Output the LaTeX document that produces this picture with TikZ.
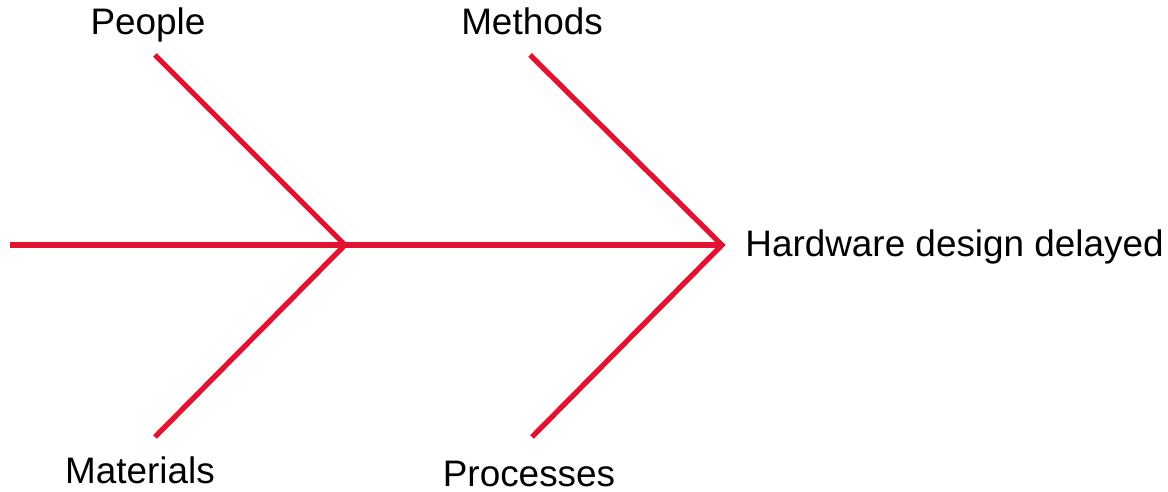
\documentclass[tikz,border=0pt]{standalone}
\usepackage{fontspec}
\setmainfont{Liberation Sans}
\definecolor{bonered}{RGB}{227,18,48}

\tikzset{
    bone/.style={draw=bonered, line width=3pt},
    cause/.style={font=\fontsize{21}{25}\selectfont, inner sep=0pt, anchor=base}
}

\begin{document}
\begin{tikzpicture}[x=0.02cm, y=-0.02cm]
        \useasboundingbox (0,0) rectangle (1168,492);

        % Points of the spine
        \coordinate (tail) at (10, 245);
        \coordinate (joint) at (345, 245);
        \coordinate (mouth) at (722, 245);

        % Ends of the four bones
        \coordinate (peopleend) at (155, 55);
        \coordinate (materialsend) at (155, 437);
        \coordinate (methodsend) at (530, 55);
        \coordinate (processesend) at (532, 437);

        % Effect at the head
        \node[cause, anchor=base west] (effect) at (745, 257) {Hardware design delayed};

        % Category labels
        \node[cause] (people) at (148, 35) {People};
        \node[cause] (methods) at (532, 35) {Methods};
        \node[cause] (materials) at (140, 483) {Materials};
        \node[cause] (processes) at (529, 486) {Processes};

        % Spine and bones
        \draw[bone] (tail) -- (mouth);
        \draw[bone] (peopleend) -- (joint) -- (materialsend);
        \draw[bone] (methodsend) -- (mouth) -- (processesend);
    \end{tikzpicture}
\end{document}
